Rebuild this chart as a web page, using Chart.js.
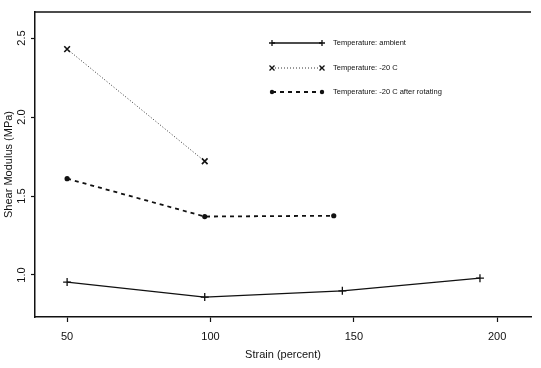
<!DOCTYPE html>
<html>
<head>
<meta charset="utf-8">
<script src="https://cdn.jsdelivr.net/npm/chart.js@4"></script>
<style>
  html, body { margin: 0; padding: 0; background: #fff; overflow: hidden; }
  #wrap { width: 541px; height: 368px; position: relative; }
</style>
</head>
<body>
<div id="wrap"><canvas id="c" width="541" height="368"></canvas></div>
<script>
// ---- data ----
const strainAmbient  = [50, 98, 146, 194];
const modulusAmbient = [0.955, 0.86, 0.90, 0.98];

const strainCold  = [50, 98];
const modulusCold = [2.43, 1.72];

const strainRotated  = [50, 98, 143];
const modulusRotated = [1.61, 1.37, 1.375];

const xTickValues = [50, 100, 150, 200];
const yTickValues = [1.0, 1.5, 2.0, 2.5];

const seriesLabels = [
  'Temperature: ambient',
  'Temperature: -20 C',
  'Temperature: -20 C after rotating'
];
const xTitle = 'Strain (percent)';
const yTitle = 'Shear Modulus (MPa)';

const pts = (xs, ys) => xs.map((x, i) => ({ x: x, y: ys[i] }));

const FONT = '"Liberation Sans", Arial, Helvetica, sans-serif';

const datasets = [
  {
    label: seriesLabels[0],
    data: pts(strainAmbient, modulusAmbient),
    borderColor: '#111', borderWidth: 1.3, borderDash: [],
    pointStyle: 'cross', pointRadius: 4, pointBorderWidth: 1.3,
    pointBorderColor: '#111', pointBackgroundColor: '#111'
  },
  {
    label: seriesLabels[1],
    data: pts(strainCold, modulusCold),
    borderColor: '#333', borderWidth: 1, borderDash: [1, 2],
    pointStyle: 'crossRot', pointRadius: 4, pointBorderWidth: 1.6,
    pointBorderColor: '#111', pointBackgroundColor: '#111'
  },
  {
    label: seriesLabels[2],
    data: pts(strainRotated, modulusRotated),
    borderColor: '#111', borderWidth: 1.8, borderDash: [4, 4],
    pointStyle: 'circle', pointRadius: 2.6, pointBorderWidth: 0,
    pointBorderColor: '#111', pointBackgroundColor: '#111'
  }
];

// draws the top border of the plot box and the in-plot legend
const boxAndLegend = {
  id: 'boxAndLegend',
  afterDatasetsDraw(chart) {
    const ctx = chart.ctx;
    const a = chart.chartArea;
    ctx.save();
    ctx.strokeStyle = '#111';
    ctx.lineWidth = 1.5;
    ctx.setLineDash([]);
    ctx.beginPath();
    ctx.moveTo(a.left, a.top);
    ctx.lineTo(a.right, a.top);
    ctx.stroke();

    // legend
    const x0 = 272, x1 = 322, tx = 333;
    const rows = [43, 68, 92];
    ctx.font = '7.5px ' + FONT;
    ctx.textBaseline = 'middle';
    ctx.textAlign = 'left';
    chart.data.datasets.forEach((ds, i) => {
      const y = rows[i];
      ctx.strokeStyle = ds.borderColor;
      ctx.lineWidth = ds.borderWidth;
      ctx.setLineDash(ds.borderDash || []);
      ctx.beginPath();
      ctx.moveTo(x0, y);
      ctx.lineTo(x1, y);
      ctx.stroke();
      ctx.setLineDash([]);
      [x0, x1].forEach(px => {
        ctx.fillStyle = '#111';
        ctx.strokeStyle = '#111';
        ctx.lineWidth = 1.3;
        if (ds.pointStyle === 'cross') {
          ctx.beginPath();
          ctx.moveTo(px - 3, y); ctx.lineTo(px + 3, y);
          ctx.moveTo(px, y - 3); ctx.lineTo(px, y + 3);
          ctx.stroke();
        } else if (ds.pointStyle === 'crossRot') {
          ctx.beginPath();
          ctx.moveTo(px - 2.5, y - 2.5); ctx.lineTo(px + 2.5, y + 2.5);
          ctx.moveTo(px - 2.5, y + 2.5); ctx.lineTo(px + 2.5, y - 2.5);
          ctx.stroke();
        } else {
          ctx.beginPath();
          ctx.arc(px, y, 2.2, 0, Math.PI * 2);
          ctx.fill();
        }
      });
      ctx.fillStyle = '#111';
      ctx.fillText(ds.label, tx, y);
    });
    ctx.restore();
  }
};

new Chart(document.getElementById('c'), {
  type: 'line',
  data: { datasets: datasets },
  options: {
    responsive: false,
    animation: false,
    layout: { padding: { top: 12, right: 10, left: 0, bottom: 0 } },
    plugins: { legend: { display: false }, tooltip: { enabled: false } },
    scales: {
      x: {
        type: 'linear',
        min: 38.8, max: 211.8,
        afterBuildTicks: s => { s.ticks = xTickValues.map(v => ({ value: v })); },
        afterFit: s => { s.height = 51; },
        grid: { drawOnChartArea: false, drawTicks: true, tickLength: 5, tickColor: '#111', tickWidth: 1.2 },
        border: { display: true, color: '#111', width: 1.5 },
        ticks: {
          color: '#111', padding: 8, maxRotation: 0,
          font: { family: FONT, size: 11 },
          callback: v => String(v)
        },
        title: {
          display: true, text: xTitle, color: '#111',
          font: { family: FONT, size: 11 }, padding: { top: 0, bottom: 6 }
        }
      },
      y: {
        type: 'linear',
        min: 0.734, max: 2.665,
        afterBuildTicks: s => { s.ticks = yTickValues.map(v => ({ value: v })); },
        afterFit: s => { s.width = 35; },
        grid: { drawOnChartArea: false, drawTicks: true, tickLength: 4, tickColor: '#111', tickWidth: 1.2 },
        border: { display: true, color: '#111', width: 1.5 },
        ticks: {
          color: '#111', padding: 1, minRotation: 90, maxRotation: 90,
          crossAlign: 'center',
          font: { family: FONT, size: 11 },
          callback: v => Number(v).toFixed(1)
        },
        title: {
          display: true, text: yTitle, color: '#111',
          font: { family: FONT, size: 11 }, padding: { top: 2, bottom: 0 }
        }
      }
    }
  },
  plugins: [boxAndLegend]
});
</script>
</body>
</html>
